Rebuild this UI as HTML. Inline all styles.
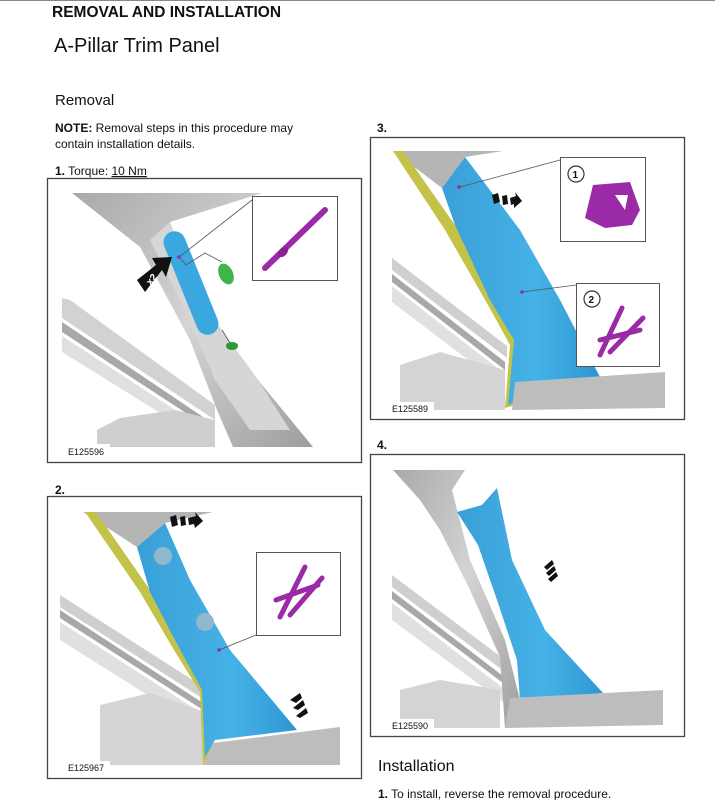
<!DOCTYPE html>
<html><head><meta charset="utf-8"><style>
html,body{margin:0;padding:0;background:#fff}
svg{display:block}
text{font-family:"Liberation Sans",Arial,sans-serif;fill:#111}
</style></head><body>
<svg width="715" height="800" viewBox="0 0 715 800" xmlns="http://www.w3.org/2000/svg">
<defs>
<linearGradient id="g1" x1="0" y1="0" x2="1" y2="1"><stop offset="0" stop-color="#a9a9a9"/><stop offset="0.5" stop-color="#d4d4d4"/><stop offset="1" stop-color="#9e9e9e"/></linearGradient>
<linearGradient id="bl" x1="0" y1="0" x2="1" y2="0"><stop offset="0" stop-color="#3a9fd8"/><stop offset="0.6" stop-color="#45b2e6"/><stop offset="1" stop-color="#2f95d2"/></linearGradient>
</defs>
<line x1="0" y1="0.5" x2="715" y2="0.5" stroke="#888" stroke-width="1"/>
<text x="52" y="17" font-size="15.5" font-weight="bold">REMOVAL AND INSTALLATION</text>
<text x="54" y="52" font-size="20">A-Pillar Trim Panel</text>
<text x="55" y="105" font-size="15">Removal</text>
<text x="55" y="132" font-size="12"><tspan font-weight="bold">NOTE:</tspan> Removal steps in this procedure may</text>
<text x="55" y="148" font-size="12">contain installation details.</text>
<text x="55" y="175" font-size="12"><tspan font-weight="bold">1.</tspan>  Torque: <tspan text-decoration="underline">10 Nm</tspan></text>
<text x="55" y="494" font-size="12" font-weight="bold">2.</text>
<text x="377" y="132" font-size="12" font-weight="bold">3.</text>
<text x="377" y="449" font-size="12" font-weight="bold">4.</text>
<text x="378" y="771" font-size="16">Installation</text>
<text x="378" y="798" font-size="12"><tspan font-weight="bold">1.</tspan>  To install, reverse the removal procedure.</text>

<!-- BOX 1 -->
<rect x="47.5" y="178.5" width="314" height="284" fill="#fff" stroke="#444" stroke-width="1.3"/>
<g>
<polygon points="62,298 70,300 215,405 215,420 62,318" fill="#d2d2d2"/>
<polygon points="62,322 215,425 215,432 62,332" fill="#a8a8a8"/>
<polygon points="62,336 215,436 215,447 62,352" fill="#e0e0e0"/>
<polygon points="97,430 120,418 175,410 215,420 215,447 97,447" fill="#cfcfcf"/>
<polygon points="72,193 262,193 170,222 200,300 258,380 313,447 233,447 217,410 190,340 140,247" fill="url(#g1)"/>
<polygon points="150,240 170,222 200,300 258,380 290,430 250,430 215,380 185,310" fill="#d6d6d6"/>
<rect x="180" y="228" width="22" height="110" rx="11" fill="#3aa7e0" transform="rotate(-22 191 283)"/>
<line x1="178" y1="258" x2="252" y2="200" stroke="#555" stroke-width="0.8"/>
<polyline points="180,258 186,265 205,253 222,262" fill="none" stroke="#555" stroke-width="0.8"/>
<circle cx="179" cy="257" r="1.8" fill="#9b2aa6"/>
<ellipse cx="226" cy="274" rx="7" ry="11" fill="#3fb54a" transform="rotate(-25 226 274)"/>
<line x1="222" y1="330" x2="230" y2="343" stroke="#555" stroke-width="0.8"/>
<ellipse cx="232" cy="346" rx="6" ry="4" fill="#2c9a3a"/>
<polygon points="137,280 156,265 152,258 172,257 166,277 162,270 145,292" fill="#111"/>
<text x="146" y="286" font-size="10" font-weight="bold" style="fill:#fff" transform="rotate(-50 148 281)">x2</text>
<rect x="252.5" y="196.5" width="85" height="84" fill="#fff" stroke="#555"/>
<line x1="265" y1="268" x2="325" y2="210" stroke="#9b2aa6" stroke-width="6" stroke-linecap="round"/>
<ellipse cx="283" cy="252" rx="6" ry="4" fill="#8a1f96" transform="rotate(-45 283 252)"/>
<rect x="66" y="444" width="44" height="12" fill="#fff"/>
<text x="68" y="455" font-size="9">E125596</text>
</g>

<!-- BOX 2 -->
<rect x="47.5" y="496.5" width="314" height="282" fill="#fff" stroke="#444" stroke-width="1.3"/>
<g>
<polygon points="60,595 60,607 205,700 205,688" fill="#cfcfcf"/>
<polygon points="60,610 203,703 203,710 60,618" fill="#a8a8a8"/>
<polygon points="60,622 203,714 203,730 60,640" fill="#e0e0e0"/>
<polygon points="100,705 150,693 205,712 205,765 100,765" fill="#d4d4d4"/>
<polygon points="83,512 213,512 165,523 137,547" fill="#b5b5b5"/>
<polygon points="85,512 96,512 150,590 182,640 212,682 212,762 203,764 200,692 174,650 140,592" fill="#c3c34a"/>
<polygon points="137,547 165,523 190,580 230,650 297,730 215,740 205,757 202,690 176,642 150,592" fill="url(#bl)"/>
<polygon points="213,743 340,727 340,765 203,765" fill="#bdbdbd"/>
<ellipse cx="163" cy="556" rx="9" ry="9" fill="#8fb8cc"/>
<ellipse cx="205" cy="622" rx="9" ry="9" fill="#8fb8cc"/>
<line x1="219" y1="650" x2="256" y2="635" stroke="#555" stroke-width="0.8"/>
<circle cx="219" cy="650" r="1.8" fill="#9b2aa6"/>
<polygon points="170,517 176,515 178,525 172,527" fill="#111"/>
<polygon points="180,517 185,516 186,525 181,526" fill="#111"/>
<polygon points="188,518 196,516 195,512 203,521 195,528 194,524 189,525" fill="#111"/>
<polygon points="290,700 300,693 302,698 296,703" fill="#111"/>
<polygon points="293,708 303,700 305,705 298,710" fill="#111"/>
<polygon points="296,716 306,708 308,713 300,718" fill="#111"/>
<rect x="256.5" y="552.5" width="84" height="83" fill="#fff" stroke="#555"/>
<g stroke="#9b2aa6" stroke-width="5" stroke-linecap="round" fill="none">
<line x1="280" y1="617" x2="305" y2="567"/><line x1="290" y1="615" x2="322" y2="578"/><line x1="276" y1="600" x2="318" y2="585"/>
</g>
<rect x="66" y="761" width="44" height="12" fill="#fff"/>
<text x="68" y="771" font-size="9">E125967</text>
</g>

<!-- BOX 3 -->
<rect x="370.5" y="137.5" width="314" height="282" fill="#fff" stroke="#444" stroke-width="1.3"/>
<g>
<polygon points="392,258 392,270 507,358 507,346" fill="#cfcfcf"/>
<polygon points="392,274 505,362 505,370 392,282" fill="#a8a8a8"/>
<polygon points="392,286 505,374 505,388 392,302" fill="#e0e0e0"/>
<polygon points="400,365 440,352 505,370 505,410 400,410" fill="#d4d4d4"/>
<polygon points="393,151 503,151 465,157 442,188" fill="#b5b5b5"/>
<polygon points="393,151 403,151 455,225 500,300 520,338 515,405 505,408 510,345 488,305 445,230" fill="#c3c34a"/>
<polygon points="442,188 465,157 520,230 560,300 600,377 525,382 518,400 508,405 514,340 490,300 455,225" fill="url(#bl)"/>
<polygon points="515,382 665,372 665,408 512,410" fill="#bdbdbd"/>
<line x1="460" y1="187" x2="560" y2="160" stroke="#555" stroke-width="0.8"/>
<circle cx="459" cy="187" r="1.8" fill="#9b2aa6"/>
<line x1="522" y1="292" x2="576" y2="285" stroke="#555" stroke-width="0.8"/>
<circle cx="522" cy="292" r="1.8" fill="#9b2aa6"/>
<polygon points="492,195 498,193 500,202 494,204" fill="#111"/>
<polygon points="502,196 507,195 508,204 503,205" fill="#111"/>
<polygon points="510,198 516,196 515,192 522,201 514,208 514,204 511,205" fill="#111"/>
<rect x="560.5" y="157.5" width="85" height="84" fill="#fff" stroke="#555"/>
<circle cx="576" cy="174" r="8" fill="#fff" stroke="#333" stroke-width="1.2"/>
<text x="572.5" y="178" font-size="10" font-weight="bold">1</text>
<polygon points="593,185 630,182 640,210 632,225 605,228 585,218" fill="#9b2aa6"/>
<polygon points="615,195 628,195 625,210" fill="#fff"/>
<rect x="576.5" y="283.5" width="83" height="83" fill="#fff" stroke="#555"/>
<circle cx="592" cy="299" r="8" fill="#fff" stroke="#333" stroke-width="1.2"/>
<text x="588.5" y="303" font-size="10" font-weight="bold">2</text>
<g stroke="#9b2aa6" stroke-width="5" stroke-linecap="round" fill="none">
<line x1="600" y1="355" x2="622" y2="308"/><line x1="610" y1="352" x2="643" y2="318"/><line x1="600" y1="340" x2="640" y2="330"/>
</g>
<rect x="390" y="402" width="44" height="12" fill="#fff"/>
<text x="392" y="412" font-size="9">E125589</text>
</g>

<!-- BOX 4 -->
<rect x="370.5" y="454.5" width="314" height="282" fill="#fff" stroke="#444" stroke-width="1.3"/>
<g>
<polygon points="392,575 392,587 505,672 505,660" fill="#cfcfcf"/>
<polygon points="392,591 503,676 503,683 392,599" fill="#a8a8a8"/>
<polygon points="392,603 503,688 503,702 392,620" fill="#e0e0e0"/>
<polygon points="400,690 440,680 500,690 500,728 400,728" fill="#d4d4d4"/>
<polygon points="393,470 465,470 452,490 470,560 505,640 520,700 505,728 500,657 470,590 440,530 420,500" fill="url(#g1)"/>
<polygon points="457,512 482,505 497,488 512,560 545,630 603,693 520,700 517,660 497,600 478,545" fill="url(#bl)"/>
<polygon points="510,698 663,690 663,725 505,728" fill="#bdbdbd"/>
<polygon points="544,567 552,560 554,564 547,570" fill="#111"/>
<polygon points="546,573 554,566 556,570 549,576" fill="#111"/>
<polygon points="548,579 556,572 558,576 551,582" fill="#111"/>
<rect x="390" y="719" width="44" height="12" fill="#fff"/>
<text x="392" y="729" font-size="9">E125590</text>
</g>
</svg>
</body></html>
